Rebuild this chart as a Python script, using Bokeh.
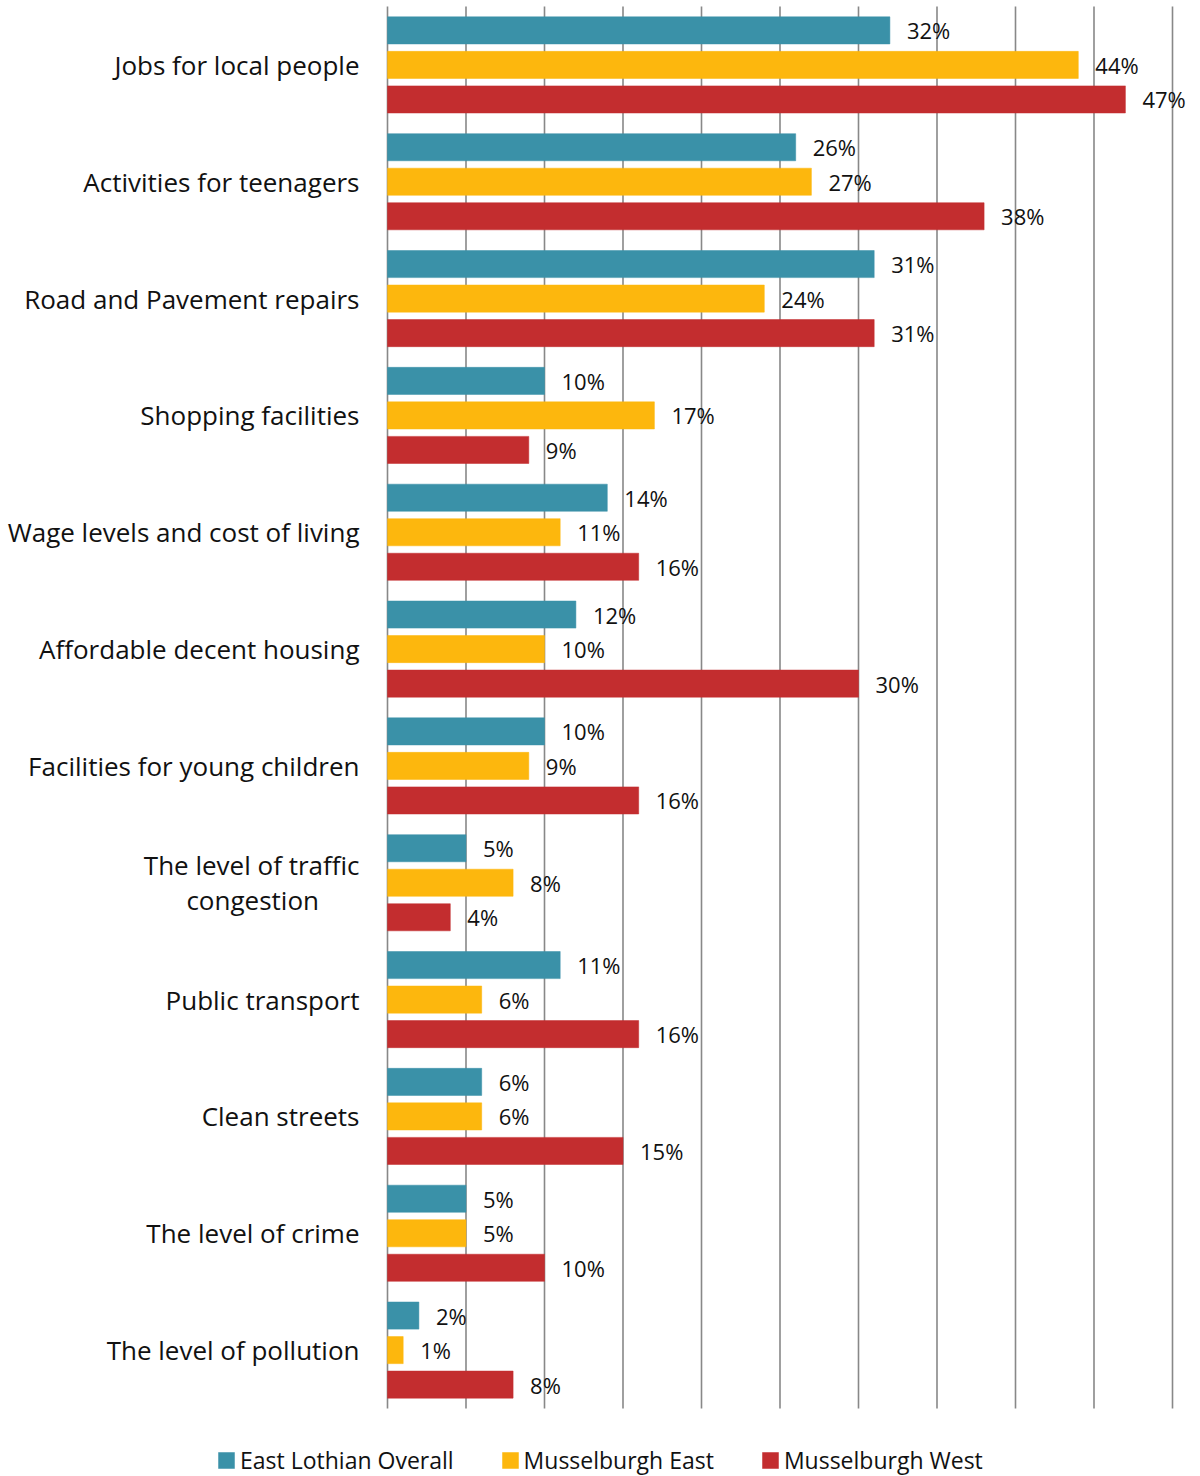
from bokeh.plotting import figure
from bokeh.models import (Range1d, ColumnDataSource, Legend, LegendItem)
from bokeh.core.properties import value
from bokeh.embed import file_html
from bokeh.resources import INLINE

categories = [
    "Jobs for local people",
    "Activities for teenagers",
    "Road and Pavement repairs",
    "Shopping facilities",
    "Wage levels and cost of living",
    "Affordable decent housing",
    "Facilities for young children",
    "The level of traffic\ncongestion\u00a0\u00a0\u00a0\u00a0\u00a0\u00a0",
    "Public transport",
    "Clean streets",
    "The level of crime",
    "The level of pollution",
]
series_names = ["East Lothian Overall", "Musselburgh East", "Musselburgh West"]
east_lothian = [32, 26, 31, 10, 14, 12, 10, 5, 11, 6, 5, 2]
musselburgh_east = [44, 27, 24, 17, 11, 10, 9, 8, 6, 6, 5, 1]
musselburgh_west = [47, 38, 31, 9, 16, 30, 16, 4, 16, 15, 10, 8]
x_ticks = [0, 5, 10, 15, 20, 25, 30, 35, 40, 45, 50]

colors = ["#3A91A8", "#FDB70D", "#C32D2F"]
FONT = "Open Sans"
PX_PER_X = 785 / 50          # pixels per percentage point
PX_PER_CAT = 1402 / 12       # pixels per category band
n = len(categories)

p = figure(width=1200, height=1476, output_backend="svg", toolbar_location=None,
           x_range=Range1d(-387 / PX_PER_X, 813 / PX_PER_X),
           y_range=Range1d((1476 - 6) / PX_PER_CAT, -6 / PX_PER_CAT),
           min_border_left=0, min_border_right=0, min_border_top=0,
           min_border_bottom=0)
p.outline_line_color = None
p.background_fill_color = "white"
p.border_fill_color = "white"
p.xaxis.visible = False
p.yaxis.visible = False
p.xgrid.grid_line_color = None
p.ygrid.grid_line_color = None

# vertical gridlines spanning the category area
p.segment(x0=x_ticks, x1=x_ticks, y0=[0] * len(x_ticks), y1=[n] * len(x_ticks),
          line_color="#888888", line_width=1.6)

centers = [i + 0.5 for i in range(n)]
src = ColumnDataSource(dict(cat=categories, yc=centers, zero=[0] * n,
                            v0=east_lothian, v1=musselburgh_east, v2=musselburgh_west,
                            l0=[f"{v}%" for v in east_lothian],
                            l1=[f"{v}%" for v in musselburgh_east],
                            l2=[f"{v}%" for v in musselburgh_west]))
offsets = [-0.2955, 0.0, 0.2955]
for i in range(3):
    src.data[f"y{i}"] = [c + offsets[i] for c in centers]

renderers = []
for i in range(3):
    r = p.hbar(y=f"y{i}", right=f"v{i}", left=0, height=0.232, source=src,
               fill_color=colors[i], line_color=colors[i], line_width=0.5)
    renderers.append(r)
    p.text(x=f"v{i}", y=f"y{i}", text=f"l{i}", source=src, x_offset=17,
           text_baseline="middle", text_align="left", text_font=value(FONT),
           text_font_size="22px", text_color="#111111")

# category labels
p.text(x="zero", y="yc", text="cat", source=src, x_offset=-28,
       text_baseline="middle", text_align="right", text_font=value(FONT),
       text_font_size="26px", text_color="#111111", text_line_height=0.96)

legend = Legend(items=[LegendItem(label=series_names[i], renderers=[renderers[i]])
                       for i in range(3)],
                orientation="horizontal", location=(216, 0),
                glyph_width=20, glyph_height=20, label_standoff=4, spacing=46,
                padding=0, margin=0, border_line_color=None,
                background_fill_alpha=0,
                label_text_font=FONT, label_text_font_size="23px",
                label_text_color="#111111")
p.add_layout(legend, "center")

open("out.html", "w").write(file_html(p, INLINE))
